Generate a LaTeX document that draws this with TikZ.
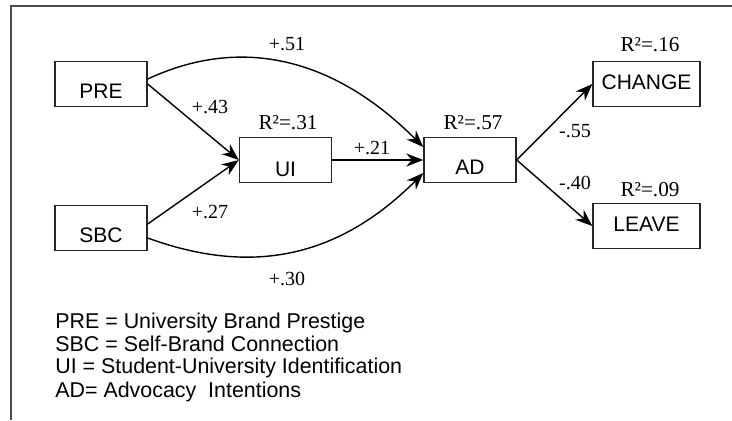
\documentclass[tikz,border=0pt]{standalone}
\usepackage{fontspec}
\setmainfont{Liberation Serif}
\setsansfont{Liberation Sans}
\usetikzlibrary{arrows.meta,positioning}

\begin{document}
\begin{tikzpicture}[x=0.5pt,y=0.5pt,>={Stealth[length=8.5pt,width=6.5pt]},
  var node/.style={draw=black!85,line width=0.7pt,inner ysep=0pt,minimum width=46pt,
    font=\sffamily\fontsize{10.5}{12}\selectfont,text height=18.5pt,text depth=4pt},
  wide node/.style={var node,minimum width=53.5pt,text height=14pt,text depth=8.5pt},
  coef/.style={inner sep=0pt,font=\fontsize{10}{11}\selectfont},
  rsq/.style={inner sep=0pt,font=\fontsize{10.6}{12}\selectfont},
  key/.style={inner sep=0pt,anchor=base west,font=\sffamily\fontsize{10.7}{12}\selectfont},
  link/.style={->,line width=0.7pt}]

  \useasboundingbox (0,0) rectangle (732,420);
  \draw[line width=1pt,black!70] (11,0) |- (732,414);

  % constructs
  \node[var node] (pre) at (101,336) {PRE};
  \node[var node] (sbc) [below of=pre, node distance=72pt] {SBC};
  \node[var node,text height=19.5pt,text depth=3pt] (ui) at (285.5,260) {UI};
  \node[var node] (ad) [right of=ui, node distance=92.25pt] {AD};
  \node[wide node] (change) at (646.5,336) {CHANGE};
  \node[wide node] (leave) [below of=change, node distance=71pt] {LEAVE};

  % explained variance
  \node[rsq] (r2ui) [above=3.5pt of ui, xshift=1.25pt] {R²=.31};
  \node[rsq] (r2ad) [above=3.5pt of ad, xshift=1.5pt] {R²=.57};
  \node[rsq] (r2change) [above=4.5pt of change, xshift=1.75pt] {R²=.16};
  \node[rsq] (r2leave) [above=3pt of leave, xshift=1.75pt] {R²=.09};

  % paths
  \draw[link] (pre.east) -- (ui.west);
  \draw[link] ([yshift=2pt]sbc.east) -- (ui.west);
  \draw[link] (ui) -- (ad);
  \draw[link] ([yshift=2.5pt]pre.east) .. controls +(25:100) and +(135:130) .. ([yshift=6.5pt]ad.west);
  \draw[link] ([yshift=-5pt]sbc.east) .. controls +(-20:100) and +(225:130) .. ([yshift=-6.5pt]ad.west);
  \draw[link] (ad.east) -- (change.west);
  \draw[link] (ad.east) -- (leave.west);

  % path coefficients
  \node[coef] (b51) at (287,376) {+.51};
  \node[coef] (b43) at (210,313) {+.43};
  \node[coef] (b21) at (372,272) {+.21};
  \node[coef] (b55) at (575,289) {-.55};
  \node[coef] (b40) at (575,237) {-.40};
  \node[coef] (b27) at (210,208) {+.27};
  \node[coef] (b30) at (287,141) {+.30};

  % key
  \node[key] (kpre) at (55,92) {PRE = University Brand Prestige};
  \node[key] (ksbc) at (55,69) {SBC = Self-Brand Connection};
  \node[key] (kui) at (55,47) {UI = Student-University Identification};
  \node[key] (kad) at (55,23) {AD= Advocacy\ \ Intentions};
\end{tikzpicture}
\end{document}
